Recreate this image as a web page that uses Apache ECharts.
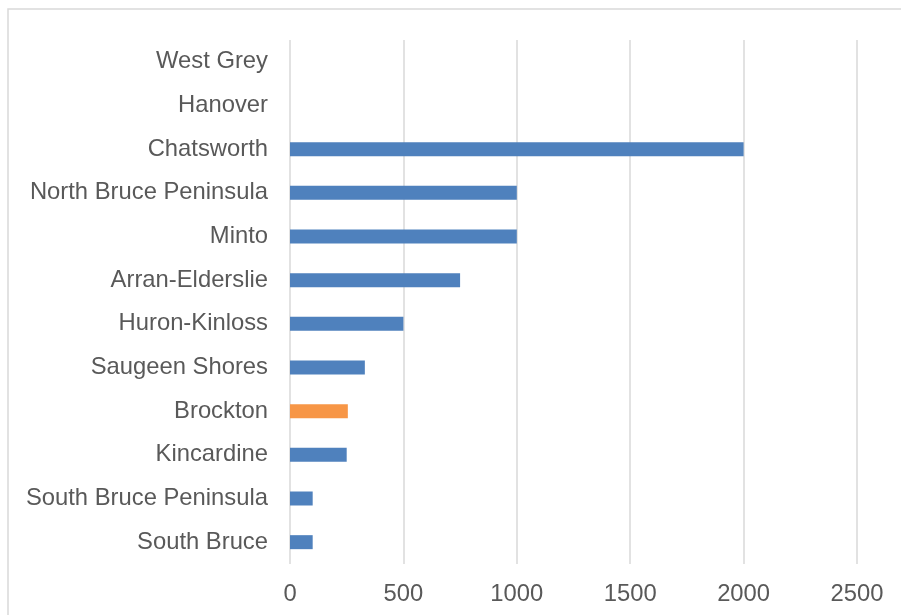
<!DOCTYPE html>
<html>
<head>
<meta charset="utf-8">
<script src="https://cdn.jsdelivr.net/npm/echarts@6/dist/echarts.min.js"></script>
<style>
  html, body { margin: 0; padding: 0; background: #ffffff; }
  #chart { width: 901px; height: 615px; }
</style>
</head>
<body>
<div id="chart"></div>
<script>
// Municipalities, listed bottom to top
const categories = [
  'South Bruce', 'South Bruce Peninsula', 'Kincardine', 'Brockton',
  'Saugeen Shores', 'Huron-Kinloss', 'Arran-Elderslie', 'Minto',
  'North Bruce Peninsula', 'Chatsworth', 'Hanover', 'West Grey'
];
const values = [100, 100, 250, 255, 330, 500, 750, 1000, 1000, 2000, 0, 0];
const highlighted = 'Brockton';
const valueTicks = [0, 500, 1000, 1500, 2000, 2500];

const chart = echarts.init(document.getElementById('chart'));
const labelFont = "Liberation Sans, Arial, sans-serif";

chart.setOption({
  animation: false,
  backgroundColor: '#ffffff',
  graphic: [{
    type: 'rect',
    shape: { x: 8, y: 9, width: 1000, height: 1000 },
    style: { fill: 'none', stroke: '#d9d9d9', lineWidth: 1.5 },
    silent: true
  }],
  grid: { left: 290, right: 44, top: 40, bottom: 51, containLabel: false },
  xAxis: {
    type: 'value',
    min: valueTicks[0],
    max: valueTicks[valueTicks.length - 1],
    interval: valueTicks[1] - valueTicks[0],
    axisLine: { show: false },
    axisTick: { show: false },
    splitLine: { show: true, lineStyle: { color: '#d9d9d9', width: 1.5 } },
    axisLabel: {
      color: '#595959', fontSize: 23.8, fontFamily: labelFont, margin: 18,
      formatter: function (v) { return String(v); }
    }
  },
  yAxis: {
    type: 'category',
    data: categories,
    axisLine: { show: false },
    axisTick: { show: false },
    splitLine: { show: false },
    axisLabel: {
      color: '#595959', fontSize: 23.8, fontFamily: labelFont, margin: 22,
      padding: [2, 0, 0, 0]
    }
  },
  series: [{
    type: 'bar',
    data: values,
    barWidth: 14,
    itemStyle: {
      color: function (p) {
        return p.name === highlighted ? '#f79646' : '#4f81bd';
      }
    }
  }]
});
</script>
</body>
</html>
